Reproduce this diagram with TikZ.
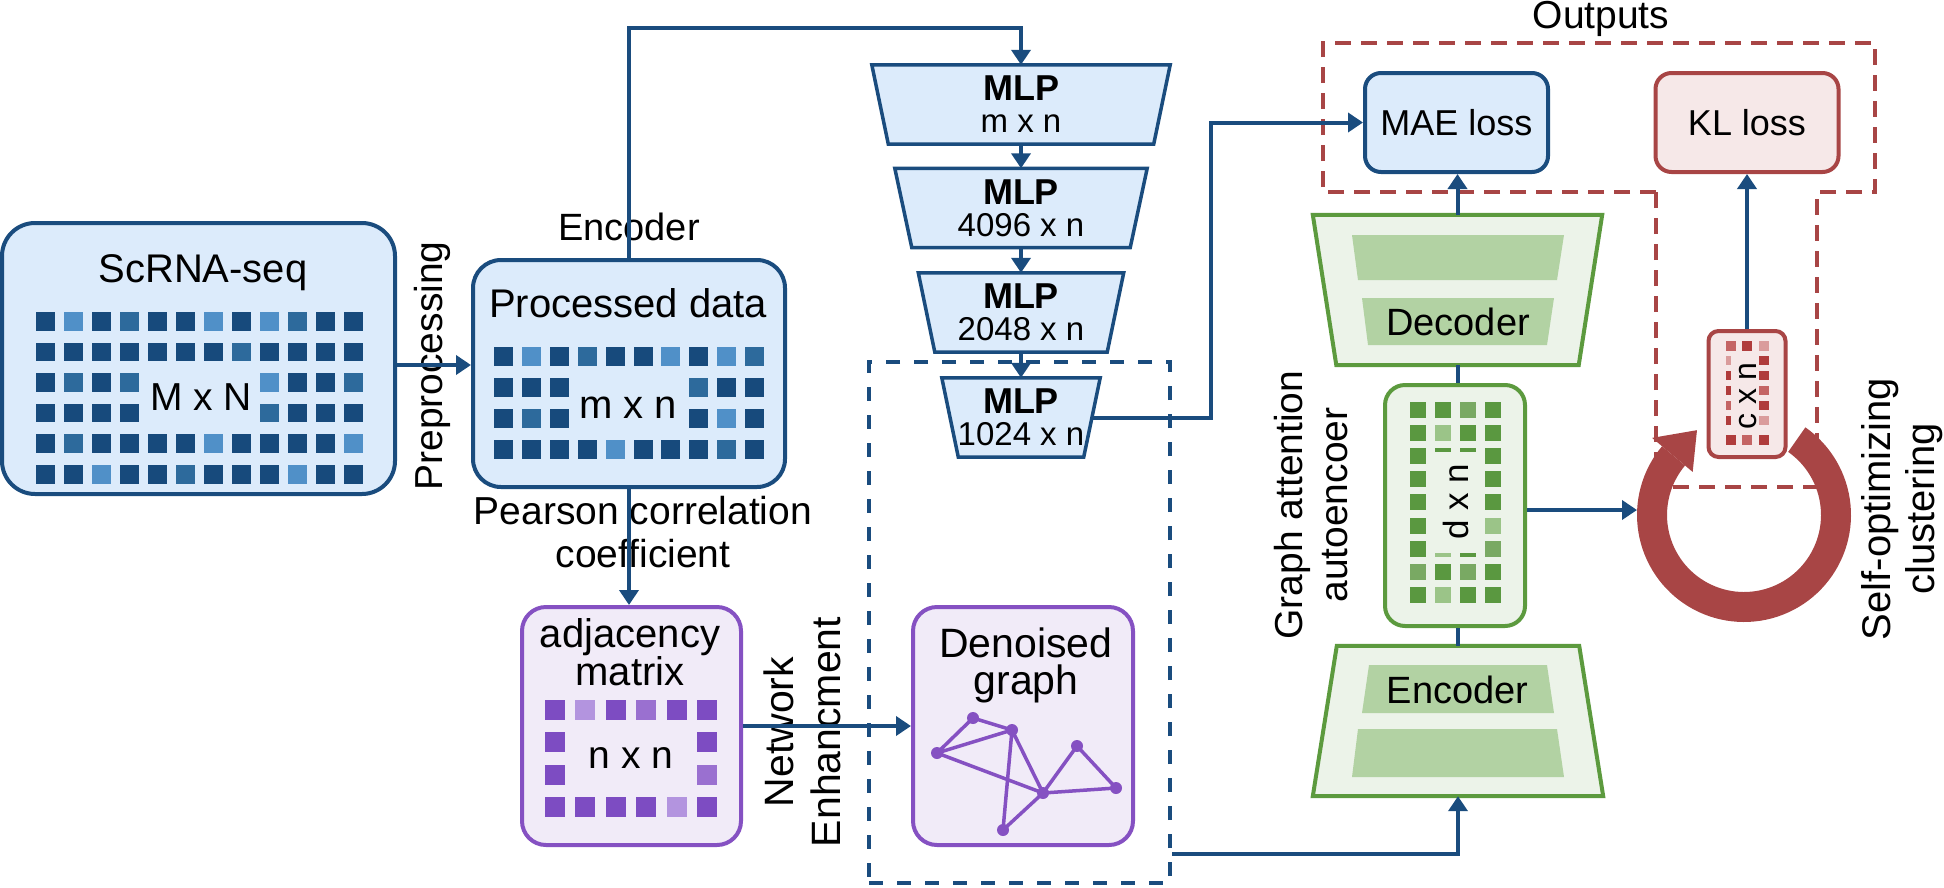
\documentclass[tikz,border=0pt]{standalone}
\usepackage{fontspec}
\setmainfont{Liberation Sans}
\usetikzlibrary{arrows.meta,calc}
\pgfdeclarelayer{background}
\pgfsetlayers{background,main}

\definecolor{lineblue}{HTML}{1A4C7E}
\definecolor{boxblue}{HTML}{DCEBFB}
\definecolor{bD}{HTML}{174A7C}
\definecolor{bM}{HTML}{2D6A9C}
\definecolor{bL}{HTML}{5090C8}
\definecolor{purpleline}{HTML}{8551C2}
\definecolor{boxpurple}{HTML}{F1EBF8}
\definecolor{pD}{HTML}{7D4CC2}
\definecolor{pM}{HTML}{9A70D0}
\definecolor{pL}{HTML}{B394DF}
\definecolor{greenline}{HTML}{5C9A3E}
\definecolor{boxgreen}{HTML}{ECF3E9}
\definecolor{bargreen}{HTML}{B2D2A3}
\definecolor{gD}{HTML}{5A9840}
\definecolor{gM}{HTML}{79A963}
\definecolor{gL}{HTML}{9BC488}
\definecolor{redline}{HTML}{A84545}
\definecolor{boxred}{HTML}{F6E8E8}
\definecolor{rD}{HTML}{B03C3C}
\definecolor{rM}{HTML}{C46464}
\definecolor{rL}{HTML}{DA9C9C}

\newcommand{\fsz}[1]{\fontsize{#1}{#1}\selectfont}
% trapezoid outline behind a named rectangular node (node width = mid width):
% #1 node, #2 half of the per-side slant (positive = wide top), #3 style
\newcommand{\trapbehind}[3]{%
  \begin{pgfonlayer}{background}
    \filldraw[#3] ($(#1.north west)+({-1*(#2)},0)$) -- ($(#1.north east)+({#2},0)$)
      -- ($(#1.south east)+({-1*(#2)},0)$) -- ($(#1.south west)+({#2},0)$) -- cycle;
  \end{pgfonlayer}}

\begin{document}
\begin{tikzpicture}[x=1pt,y=-1pt,
  conn/.style={draw=lineblue, line width=4pt},
  arr/.style={conn, -{Triangle[length=15pt,width=19pt]}},
  bluebox/.style={draw=lineblue, fill=boxblue, line width=4pt, inner sep=0pt},
  purplebox/.style={draw=purpleline, fill=boxpurple, line width=4pt, inner sep=0pt, rounded corners=24pt},
  greenbox/.style={draw=greenline, fill=boxgreen, line width=4pt, inner sep=0pt, rounded corners=20pt},
  redbox/.style={draw=redline, fill=boxred, line width=4pt, inner sep=0pt},
  mlpnode/.style={inner sep=0pt, align=center, font=\fontsize{33}{32}\selectfont, minimum height=79pt},
  mlpshape/.style={draw=lineblue, fill=boxblue, line width=3.5pt, line join=miter},
  gnode/.style={inner sep=0pt, minimum height=150pt},
  gshape/.style={draw=greenline, fill=boxgreen, line width=4pt},
  lbl/.style={inner sep=0pt, text=black},
  bluedash/.style={draw=lineblue, line width=4pt, dash pattern=on 14pt off 14pt},
  reddash/.style={draw=redline, line width=4pt, dash pattern=on 16pt off 10pt},
]
\useasboundingbox (0,0) rectangle (1944,887);

% ---------- dashed frames ----------
\node[bluedash, minimum width=301pt, minimum height=521pt, inner sep=0pt] (enh) at (1019.5,622.5) {};
\draw[reddash] (1656,192) -- (1323,192) -- (1323,43) -- (1875,43) -- (1875,192) -- (1817,192)
   -- (1817,487) -- (1656,487) -- cycle;

% ---------- ScRNA-seq ----------
\node[bluebox, rounded corners=33pt, minimum width=393pt, minimum height=271pt] (scrna) at (198.5,358.5) {};
\foreach \row [count=\j from 0] in {
  {bD,bL,bD,bM,bD,bD,bL,bD,bL,bM,bD,bD},
  {bD,bD,bD,bD,bD,bD,bD,bM,bD,bD,bD,bD},
  {bD,bM,bD,bM,none,none,none,none,bL,bD,bD,bM},
  {bD,bD,bD,bD,none,none,none,none,bM,bD,bD,bD},
  {bD,bM,bD,bD,bD,bD,bL,bD,bD,bD,bD,bL},
  {bD,bD,bL,bD,bD,bM,bD,bD,bD,bL,bD,bD}}
  \foreach \c [count=\i from 0] in \row
    \fill[fill=\c] ({36+28*\i},{312+30.6*\j}) rectangle ++(18.5,18.5);
\node[lbl, anchor=base, font=\fsz{40}] (scrnatitle) at (203,282) {ScRNA-seq};
\node[lbl, anchor=base, font=\fsz{39}] (scrnadim) at (201,410) {M x N};

% ---------- Processed data ----------
\node[bluebox, rounded corners=28pt, minimum width=312pt, minimum height=227pt] (proc) at (629,373.5) {};
\foreach \row [count=\j from 0] in {
  {bD,bL,bD,bM,bD,bD,bL,bD,bL,bM},
  {bD,bD,bD,none,none,none,none,bM,bD,bD},
  {bD,bM,bD,none,none,none,none,bD,bL,bD},
  {bD,bD,bD,bD,bL,bD,bD,bD,bM,bD}}
  \foreach \c [count=\i from 0] in \row
    \fill[fill=\c] ({494+27.9*\i},{347+31*\j}) rectangle ++(19,19);
\node[lbl, anchor=base, font=\fsz{40}] (proctitle) at (628,317) {Processed data};
\node[lbl, anchor=base, font=\fsz{40}] (procdim) at (628,418) {m x n};
\node[lbl, anchor=base, font=\fsz{38}] (enclabel) at (629,240) {Encoder};

% ---------- adjacency matrix ----------
\node[purplebox, minimum width=219pt, minimum height=238pt] (adj) at (631.5,726) {};
\foreach \row [count=\j from 0] in {
  {pD,pL,pD,pM,pD,pD},
  {pD,none,none,none,none,pD},
  {pD,none,none,none,none,pM},
  {pD,pD,pD,pD,pL,pD}}
  \foreach \c [count=\i from 0] in \row
    \fill[fill=\c] ({545+30.4*\i},{700+32.3*\j}) rectangle ++(20,20);
\node[lbl, align=center, font=\fontsize{40}{37}\selectfont] (adjtitle) at (630,652) {adjacency\\matrix};
\node[lbl, anchor=base, font=\fsz{39}] (adjdim) at (631,768) {n x n};

% ---------- Denoised graph ----------
\node[purplebox, minimum width=220pt, minimum height=238pt] (den) at (1023,726) {};
\node[lbl, align=center, font=\fontsize{41}{37}\selectfont] (dentitle) at (1026,665) {Denoised\\graph};
\coordinate (gA) at (973,718);
\coordinate (gB) at (1012,730);
\coordinate (gC) at (937,753);
\coordinate (gD) at (1077,746);
\coordinate (gE) at (1043,793);
\coordinate (gF) at (1116,788);
\coordinate (gG) at (1003,830);
\draw[purpleline, line width=3.5pt, line join=round] (gC) -- (gA) -- (gB) -- (gC) -- (gE) -- (gB) -- (gG) -- (gE) -- (gD) -- (gF) -- (gE);
\foreach \p in {gA,gB,gC,gD,gE,gF,gG} \fill[purpleline] (\p) circle[radius=6pt];

% ---------- MLP stack ----------
\node[mlpnode, minimum width=281.5pt] (mlp1) at (1021,104.5) {{\bfseries\fsz{36}MLP}\\m x n};
\trapbehind{mlp1}{8.25}{mlpshape}
\node[mlpnode, minimum width=235pt] (mlp2) at (1021,208) {{\bfseries\fsz{36}MLP}\\4096 x n};
\trapbehind{mlp2}{8.5}{mlpshape}
\node[mlpnode, minimum width=188.5pt] (mlp3) at (1021,312.5) {{\bfseries\fsz{36}MLP}\\2048 x n};
\trapbehind{mlp3}{8.25}{mlpshape}
\node[mlpnode, minimum width=141.5pt] (mlp4) at (1021,417.5) {{\bfseries\fsz{36}MLP}\\1024 x n};
\trapbehind{mlp4}{8.25}{mlpshape}

% ---------- losses ----------
\node[bluebox, rounded corners=16pt, minimum width=183pt, minimum height=99pt, font=\fsz{36}] (mae) at (1456.5,122.5) {MAE loss};
\node[redbox, rounded corners=16pt, minimum width=183pt, minimum height=99pt, font=\fsz{36}] (kl) at (1747,122.5) {KL loss};
\node[lbl, anchor=base, font=\fsz{39}] (outlabel) at (1601,28) {Outputs};

% ---------- decoder ----------
\node[gnode, minimum width=265.5pt] (dec) at (1457.5,290) {};
\trapbehind{dec}{11.75}{gshape}
\begin{pgfonlayer}{background}
\fill[bargreen] (1352,235) -- (1564,235) -- (1557,280) -- (1358,280) -- cycle;
\fill[bargreen] (1362,298) -- (1554,298) -- (1547,345) -- (1368,345) -- cycle;
\end{pgfonlayer}
\node[lbl, anchor=base, font=\fsz{38}] (dectext) at (1458,335) {Decoder};

% ---------- latent ----------
\node[greenbox, minimum width=140pt, minimum height=241pt] (latent) at (1455,505.5) {};
\foreach \row [count=\j from 0] in {
  {gD,gD,gM,gD},
  {gD,gL,gD,gD},
  {gD,none,none,gD},
  {gD,none,none,gD},
  {gD,none,none,gD},
  {gD,none,none,gL},
  {gD,none,none,gM},
  {gM,gD,gM,gD},
  {gD,gL,gD,gD}}
  \foreach \c [count=\i from 0] in \row
    \fill[fill=\c] ({1410+25*\i},{402+23.1*\j}) rectangle ++(16,16);
\fill[gD] (1435,448) rectangle ++(16,4);
\fill[gD] (1460,448) rectangle ++(16,4);
\fill[gL] (1435,553) rectangle ++(16,4);
\fill[gD] (1460,553) rectangle ++(16,4);
\node[lbl, rotate=90, anchor=base, font=\fsz{35}] (latentdim) at (1468,502) {d x n};

% ---------- encoder ----------
\node[gnode, minimum width=266pt] (enc) at (1458,721) {};
\trapbehind{enc}{-12}{gshape}
\begin{pgfonlayer}{background}
\fill[bargreen] (1369,665) -- (1547,665) -- (1554,713) -- (1362,713) -- cycle;
\fill[bargreen] (1358,729) -- (1557,729) -- (1564,777) -- (1352,777) -- cycle;
\end{pgfonlayer}
\node[lbl, anchor=base, font=\fsz{38}] (enctext) at (1457.5,703) {Encoder};

% ---------- clustering ring ----------
\fill[redline] plot[domain=-55:220, samples=90] ({1744+107*cos(\x)},{515+107*sin(\x)})
  -- plot[domain=220:-55, samples=90] ({1744+77*cos(\x)},{515+77*sin(\x)}) -- cycle;
\fill[redline] ({1744+67*cos(220)},{515+67*sin(220)}) -- ({1744+120*cos(220)},{515+120*sin(220)})
  -- ({1744+97*cos(241)},{515+97*sin(241)}) -- cycle;
\coordinate (ringin) at (1637,510);

% ---------- c x n ----------
\node[redbox, rounded corners=10pt, minimum width=77pt, minimum height=126pt] (cxn) at (1747,394) {};
\begin{scope}[shift={(cxn.center)}]
  \fill[rM] (-21.5,-53) rectangle (-11.5,-43);
  \fill[rD] (-5.5,-53) rectangle (4.5,-43);
  \fill[rL] (11.5,-53) rectangle (22,-43);
  \fill[rD] (-21.5,41) rectangle (-11.5,51);
  \fill[rM] (-5.5,41) rectangle (4.5,51);
  \fill[rD] (11.5,41) rectangle (22,51);
  \foreach \c [count=\i from 0] in {rL,rD,rD,rM,rD}
    \fill[fill=\c] (-21.5,{-38+15*\i}) rectangle (-16.5,{-29+15*\i});
  \foreach \c [count=\i from 0] in {rD,rD,rM,rD,rL}
    \fill[fill=\c] (12,{-38+15*\i}) rectangle (22,{-29+15*\i});
\end{scope}
\node[lbl, rotate=90, anchor=base, font=\fsz{32}] (cxntext) at (1756.5,396) {c x n};

% ---------- side labels ----------
\node[lbl, rotate=90, anchor=base, font=\fsz{39}] (prep) at (442,366) {Preprocessing};
\node[lbl, align=center, font=\fontsize{39}{43}\selectfont] (pearson) at (643,532) {Pearson correlation\\coefficient};
\node[lbl, rotate=90, align=center, font=\fontsize{41}{47}\selectfont] (netenh) at (802.5,732) {Network\\Enhancment};
\node[lbl, rotate=90, align=center, font=\fontsize{39}{45}\selectfont] (gat) at (1311,505) {Graph attention\\autoencoer};
\node[lbl, rotate=90, align=center, font=\fontsize{40}{44}\selectfont] (soc) at (1902,509) {Self-optimizing\\clustering};

% ---------- connectors ----------
\coordinate (prepstart) at ($(scrna.east)+(0,6.5)$);
\draw[arr] (prepstart) -- (prepstart -| proc.west);
\draw[arr] (proc.north) -- ++(0,-230) -| (mlp1.north);
\draw[arr] (mlp1.south) -- (mlp2.north);
\draw[arr] (mlp2.south) -- (mlp3.north);
\draw[arr] (mlp3.south) -- (mlp4.north);
\draw[arr] (proc.south) -- (proc.south |- adj.north);
\draw[arr] (adj.east) -- (den.west);
\draw[arr] ($(enh.south east)+(0,-31)$) -| (enc.south);
\draw[arr] (mlp4.east) -| ($(mae.west)+(-152,0)$) -- (mae.west);
\draw[arr] (dec.north) -- (dec.north |- mae.south);
\draw[conn] (dec.south) -- (dec.south |- latent.north);
\draw[conn] (latent.south -| enc.north) -- (enc.north);
\draw[arr] (latent.east |- ringin) -- (ringin);
\draw[arr] (cxn.north) -- (kl.south);
\end{tikzpicture}
\end{document}
